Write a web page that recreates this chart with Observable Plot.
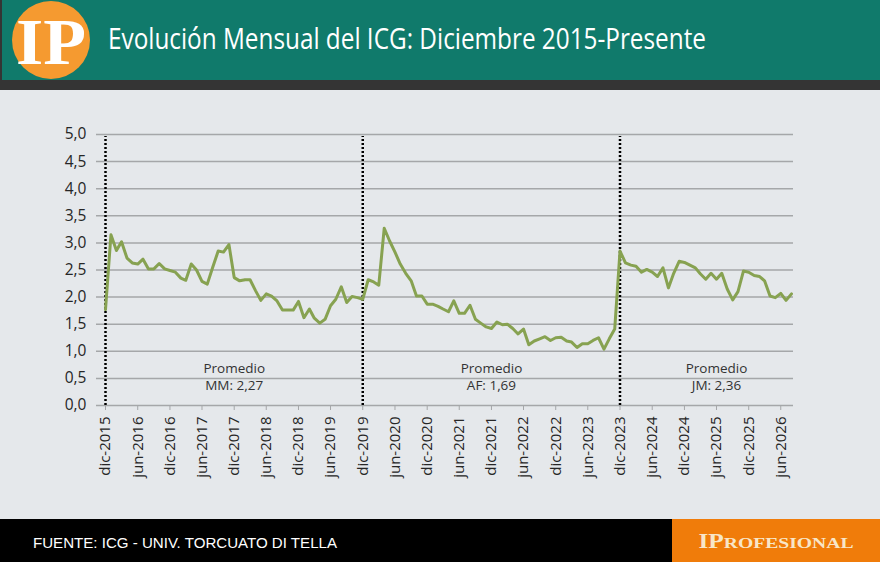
<!DOCTYPE html>
<html>
<head>
<meta charset="utf-8">
<script src="https://cdn.jsdelivr.net/npm/d3@7"></script>
<script src="https://cdn.jsdelivr.net/npm/@observablehq/plot@0.6"></script>
<style>
  html, body { margin: 0; padding: 0; background: #e5e8eb; }
  #wrap { width: 880px; height: 562px; position: relative; overflow: hidden; background: #e5e8eb; }
  svg { display: block; }
</style>
</head>
<body>
<div id="wrap">
  <svg id="header" width="880" height="90">
    <rect x="0" y="0" width="880" height="80" fill="#107a6b"></rect>
    <rect x="0" y="80" width="880" height="10" fill="#343434"></rect>
    <rect x="0" y="0" width="2" height="90" fill="#343434"></rect>
    <circle cx="51" cy="40" r="39" fill="#f59a30"></circle>
    <text x="51" y="64" text-anchor="middle" font-family="Liberation Serif" font-weight="bold" font-size="66" fill="#ffffff" textLength="70" lengthAdjust="spacingAndGlyphs">IP</text>
    <text id="title" x="108" y="49" font-family="Open Sans" font-size="29" fill="#ffffff" textLength="598" lengthAdjust="spacingAndGlyphs">Evolución Mensual del ICG: Diciembre 2015-Presente</text>
  </svg>
  <div id="chart"></div>
  <svg id="footer" width="880" height="43">
    <rect x="0" y="0" width="880" height="43" fill="#000000"></rect>
    <rect x="672" y="0" width="208" height="43" fill="#f07c0a"></rect>
    <text x="33" y="29" font-family="Liberation Sans" font-size="15" fill="#ffffff" textLength="304" lengthAdjust="spacingAndGlyphs">FUENTE: ICG - UNIV. TORCUATO DI TELLA</text>
    <text x="776" y="29" text-anchor="middle" font-family="Liberation Serif" font-weight="bold" fill="#f8e6c8" textLength="155" lengthAdjust="spacingAndGlyphs"><tspan font-size="20">IP</tspan><tspan font-size="15.5">ROFESIONAL</tspan></text>
  </svg>
</div>
<script>
// ---- data ----
const startMonth = "dic-2015";
const icgValues = [
  1.77, 3.15, 2.86, 3.02, 2.72, 2.63, 2.61, 2.70, 2.52, 2.52, 2.62, 2.52, 2.49, 2.46, 2.35, 2.31, 2.61, 2.50, 2.29, 2.24, 2.55, 2.85, 2.83, 2.97, 2.36, 2.30,
  2.32, 2.32, 2.12, 1.94, 2.06, 2.02, 1.93, 1.76, 1.76, 1.76, 1.92, 1.62, 1.78, 1.61, 1.52, 1.59, 1.84, 1.96, 2.19, 1.90, 2.01, 1.99, 1.96, 2.32, 2.28, 2.22,
  3.27, 3.04, 2.83, 2.61, 2.44, 2.30, 2.02, 2.02, 1.87, 1.87, 1.83, 1.78, 1.73, 1.93, 1.70, 1.70, 1.85, 1.59, 1.52, 1.45, 1.42, 1.54, 1.49, 1.50, 1.42, 1.32,
  1.41, 1.12, 1.19, 1.23, 1.27, 1.20, 1.25, 1.26, 1.19, 1.17, 1.07, 1.14, 1.14, 1.20, 1.25, 1.04, 1.23, 1.41,
  2.85, 2.63, 2.59, 2.57, 2.46, 2.51, 2.46, 2.38, 2.54, 2.17, 2.44, 2.66, 2.64, 2.59, 2.54, 2.43, 2.33, 2.44, 2.33, 2.44, 2.15, 1.95, 2.10, 2.48, 2.46, 2.40, 2.38, 2.30, 2.02, 1.99, 2.07, 1.94, 2.06
];
const xTickLabels = [
  "dic-2015","jun-2016","dic-2016","jun-2017","dic-2017","jun-2018","dic-2018","jun-2019",
  "dic-2019","jun-2020","dic-2020","jun-2021","dic-2021","jun-2022","dic-2022","jun-2023",
  "dic-2023","jun-2024","dic-2024","jun-2025","dic-2025","jun-2026"
];
const yTicks = [0, 0.5, 1, 1.5, 2, 2.5, 3, 3.5, 4, 4.5, 5];
const periodStarts = ["dic-2015", "dic-2019", "dic-2023"];
const periodLabelAt = ["dic-2017", "dic-2021", "jun-2025"];
const periodHeading = ["Promedio", "Promedio", "Promedio"];
const periodAverages = ["MM: 2,27", "AF: 1,69", "JM: 2,36"];

// ---- helpers ----
const monthIdx = {ene:0, feb:1, mar:2, abr:3, may:4, jun:5, jul:6, ago:7, sep:8, oct:9, nov:10, dic:11};
function parseLabel(s) {
  const [m, y] = s.split("-");
  return new Date(Date.UTC(+y, monthIdx[m], 1));
}
const start = parseLabel(startMonth);
const series = icgValues.map((v, i) => ({date: d3.utcMonth.offset(start, i), value: v}));
const tickDates = xTickLabels.map(parseLabel);
const labelByTime = new Map(tickDates.map((d, i) => [+d, xTickLabels[i]]));
const periods = periodAverages.map((t, i) => ({date: parseLabel(periodLabelAt[i]), head: periodHeading[i], avg: t}));

const chart = Plot.plot({
  width: 880,
  height: 429,
  marginLeft: 105,
  marginRight: 89,
  marginTop: 44,
  marginBottom: 114,
  style: {background: "transparent", fontFamily: "Open Sans", fontSize: "15px", color: "#262626"},
  x: {type: "utc", domain: [start, series[series.length - 1].date]},
  y: {domain: [0, 5]},
  marks: [
    Plot.ruleY(yTicks, {stroke: "#a5a7a9", strokeWidth: 1.5, insetLeft: -9, insetRight: -2}),
    Plot.axisY(yTicks, {
      tickSize: 0, tickPadding: 19, label: null, fontSize: 15.5, fill: "#262626",
      tickFormat: d => d.toFixed(1).replace(".", ",")
    }),
    Plot.axisX(tickDates, {
      tickSize: 5, tickPadding: 6, tickRotate: -90, label: null, fontSize: 15, fill: "#262626",
      stroke: "#a5a7a9", tickFormat: d => labelByTime.get(+d)
    }),
    Plot.ruleX(periodStarts.map(parseLabel), {
      y1: 0, y2: 5, stroke: "#000", strokeWidth: 2.5, strokeDasharray: "2,2", insetBottom: -2
    }),
    Plot.lineY(series, {x: "date", y: "value", stroke: "#87a251", strokeWidth: 3, strokeLinejoin: "round"}),
    Plot.text(periods, {
      x: "date", y: () => 0.68, text: "head", fontSize: 13.5, fill: "#333", fontFamily: "Open Sans"
    }),
    Plot.text(periods, {
      x: "date", y: () => 0.37, text: "avg", fontSize: 13.5, fill: "#333", fontFamily: "Open Sans"
    })
  ]
});
document.getElementById("chart").appendChild(chart);
</script>
</body>
</html>
